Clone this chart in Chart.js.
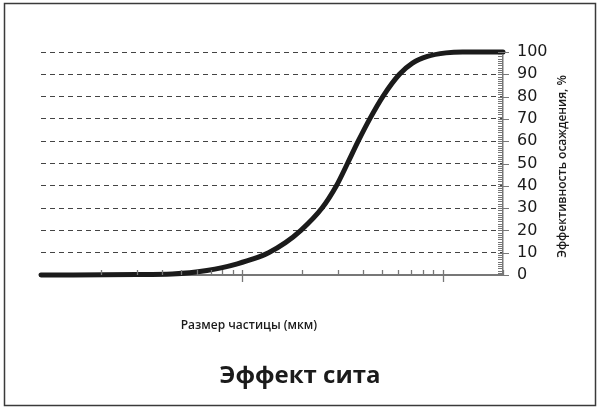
<!DOCTYPE html>
<html lang="ru">
<head>
<meta charset="utf-8">
<title>Эффект сита</title>
<script src="https://cdn.jsdelivr.net/npm/chart.js@4.4.1/dist/chart.umd.min.js"></script>
<style>
  html, body { margin: 0; padding: 0; background: #fff; }
  #wrap { width: 600px; height: 409px; }
</style>
</head>
<body>
<div id="wrap"><canvas id="sieve" width="600" height="409"></canvas></div>
<script>
// размер частицы, мкм (логарифмическая ось)
const particleSize = [1, 3, 4.5, 5.5, 6.7, 8, 9.5, 11.5, 13.6, 16.5, 19.7, 25.1, 29.6, 33.6, 38.0, 43.4, 50.4, 61.0, 70.8, 84, 104, 126, 200];
// эффективность осаждения, %
const efficiency = [0, 0.2, 0.5, 1, 2, 3.3, 5, 7.3, 10, 14.5, 20, 30, 40, 50, 60, 70, 80, 90, 95, 98, 99.6, 100, 100];

const xMin = 1, xMax = 200;
const decades = [1, 10, 100];
const yMin = 0, yMax = 100, yStep = 10;

const titleText = 'Эффект сита';
const xTitle = 'Размер частицы (мкм)';
const yTitle = 'Эффективность осаждения, %';

const INK = '#1b1b1b';
const AXIS = '#777';

// подписи, засечки осей и рамка
const decor = {
  id: 'decor',
  afterDraw(chart) {
    const ctx = chart.ctx;
    const area = chart.chartArea;
    const xs = chart.scales.x, ys = chart.scales.y;
    ctx.save();

    // рамка вокруг рисунка
    ctx.strokeStyle = '#3a3a3a';
    ctx.lineWidth = 1.5;
    ctx.strokeRect(4.5, 3.5, 591, 402);

    // засечки оси X
    ctx.strokeStyle = AXIS;
    ctx.lineWidth = 1.3;
    decades.forEach(d => {
      for (let k = 2; k <= 9; k++) {
        const v = d * k;
        if (v > xMax) break;
        const px = Math.round(xs.getPixelForValue(v)) + 0.5;
        ctx.beginPath();
        ctx.moveTo(px, area.bottom);
        ctx.lineTo(px, area.bottom - 5);
        ctx.stroke();
      }
      if (d > xMin) {
        const px = Math.round(xs.getPixelForValue(d)) + 0.5;
        ctx.beginPath();
        ctx.moveTo(px, area.bottom - 5);
        ctx.lineTo(px, area.bottom + 7);
        ctx.stroke();
      }
    });

    // засечки оси Y
    ctx.lineWidth = 1;
    for (let v = yMin; v <= yMax; v++) {
      const py = Math.round(ys.getPixelForValue(v)) + 0.5;
      ctx.beginPath();
      ctx.moveTo(area.right - 5, py);
      ctx.lineTo(v % yStep === 0 ? area.right + 6 : area.right, py);
      ctx.stroke();
    }

    ctx.fillStyle = INK;
    ctx.textAlign = 'center';
    ctx.textBaseline = 'middle';

    // подпись оси X
    ctx.font = '600 12px "Open Sans"';
    ctx.fillText(xTitle, area.left + (area.right - area.left) * 0.45, 326);

    // заголовок
    ctx.font = 'bold 24px "Open Sans"';
    ctx.fillText(titleText, chart.width / 2, 376);

    // подпись оси Y (снизу вверх)
    ctx.translate(563, (area.top + area.bottom) / 2 + 3);
    ctx.rotate(-Math.PI / 2);
    ctx.font = '600 12px "Open Sans"';
    ctx.fillText(yTitle, 0, 0);

    ctx.restore();
  }
};

new Chart(document.getElementById('sieve'), {
  type: 'scatter',
  data: {
    datasets: [{
      data: particleSize.map((x, i) => ({ x: x, y: efficiency[i] })),
      showLine: true,
      borderColor: INK,
      borderWidth: 5,
      borderCapStyle: 'round',
      pointRadius: 0,
      cubicInterpolationMode: 'monotone',
      clip: false
    }]
  },
  options: {
    responsive: false,
    animation: false,
    devicePixelRatio: 1,
    layout: { padding: { left: 41, top: 52, right: 0, bottom: 0 } },
    plugins: {
      legend: { display: false },
      title: { display: false },
      tooltip: { enabled: false }
    },
    scales: {
      x: {
        type: 'logarithmic',
        min: xMin,
        max: xMax,
        ticks: { display: false },
        grid: { display: false, drawTicks: false },
        border: { display: true, color: AXIS, width: 2 },
        afterFit(scale) { scale.height = 134; }
      },
      y: {
        position: 'right',
        min: yMin,
        max: yMax,
        ticks: {
          stepSize: yStep,
          padding: 14,
          color: INK,
          font: { family: 'DejaVu Sans', size: 16 }
        },
        grid: { color: '#444', lineWidth: 1, drawTicks: false },
        border: { display: true, color: AXIS, width: 1.5, dash: [5, 4] },
        afterFit(scale) { scale.width = 97; }
      }
    }
  },
  plugins: [decor]
});
</script>
</body>
</html>
